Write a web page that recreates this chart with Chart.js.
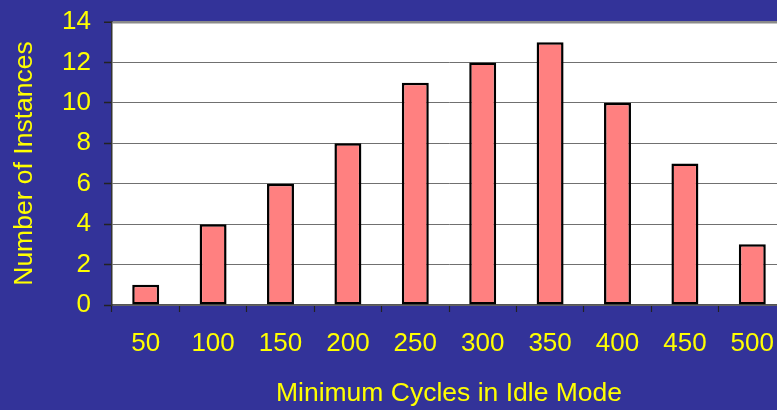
<!DOCTYPE html>
<html>
<head>
<meta charset="utf-8">
<title>Minimum Cycles in Idle Mode</title>
<script src="https://cdn.jsdelivr.net/npm/chart.js@4/dist/chart.umd.min.js"></script>
<style>
  html, body { margin: 0; padding: 0; background: #333399; overflow: hidden; }
  #wrap { position: absolute; left: 0; top: 0; width: 800px; height: 410px; }
</style>
</head>
<body>
<div id="wrap"><canvas id="chart" width="800" height="410"></canvas></div>
<script>
// Histogram data: minimum idle-mode cycle bins and how many instances fell in each
const cycleBins = ['50', '100', '150', '200', '250', '300', '350', '400', '450', '500'];
const instanceCounts = [1, 4, 6, 8, 11, 12, 13, 10, 7, 3];
const yMin = 0;
const yMax = 14;
const yStep = 2;

const FONT = "'Liberation Sans', Arial, sans-serif";
const YELLOW = '#FFFF00';

// White plot area on the blue page
const plotBackground = {
  id: 'plotBackground',
  beforeDraw(chart) {
    const { ctx, chartArea: a } = chart;
    ctx.save();
    ctx.fillStyle = '#FFFFFF';
    ctx.fillRect(a.left, a.top, a.right - a.left, a.bottom - a.top);
    ctx.restore();
  }
};

new Chart(document.getElementById('chart'), {
  type: 'bar',
  data: {
    labels: cycleBins,
    datasets: [{
      label: 'Number of Instances',
      data: instanceCounts,
      backgroundColor: '#FF8080',
      borderColor: '#000000',
      borderWidth: 2.5,
      borderSkipped: false,
      barPercentage: 0.4,
      categoryPercentage: 1.0
    }]
  },
  options: {
    responsive: false,
    animation: false,
    devicePixelRatio: 1,
    layout: { padding: { left: 0, right: 14, top: 22, bottom: 0 } },
    plugins: {
      legend: { display: false },
      tooltip: { enabled: false }
    },
    scales: {
      x: {
        afterFit(scale) { scale.height = 105; },
        grid: {
          offset: true,
          drawOnChartArea: false,
          drawTicks: true,
          tickLength: 7,
          tickColor: '#222222',
          tickWidth: 1.2
        },
        border: { display: true, color: '#555555', width: 1.5 },
        ticks: {
          color: YELLOW,
          font: { family: FONT, size: 26 },
          padding: 16,
          maxRotation: 0,
          autoSkip: false
        },
        title: {
          display: true,
          text: 'Minimum Cycles in Idle Mode',
          color: YELLOW,
          font: { family: FONT, size: 26.5 },
          padding: { top: 0, bottom: 0 }
        }
      },
      y: {
        min: yMin,
        max: yMax,
        afterFit(scale) {
          scale.width = 112;
          scale.paddingTop = 0;
          scale.paddingBottom = 0;
        },
        grid: {
          color: (c) => (c.tick && c.tick.value === yMax ? '#8a8a8a' : '#707070'),
          lineWidth: (c) => (c.tick && c.tick.value === yMax ? 2.5 : 1),
          drawTicks: true,
          tickLength: 8,
          tickColor: '#222222',
          tickWidth: 1.5
        },
        border: { display: true, color: '#333333', width: 1.5 },
        ticks: {
          stepSize: yStep,
          color: YELLOW,
          font: { family: FONT, size: 26 },
          padding: 13
        },
        title: {
          display: true,
          text: 'Number of Instances',
          color: YELLOW,
          font: { family: FONT, size: 26.5 },
          padding: { top: 9, bottom: 0 }
        }
      }
    }
  },
  plugins: [plotBackground]
});
</script>
</body>
</html>
